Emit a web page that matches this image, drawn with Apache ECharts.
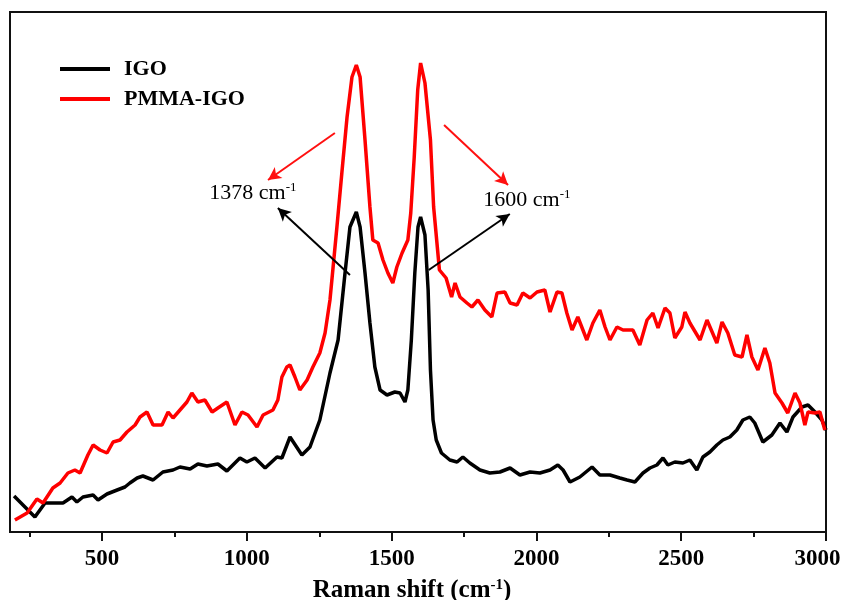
<!DOCTYPE html>
<html>
<head>
<meta charset="utf-8">
<script src="https://cdn.jsdelivr.net/npm/echarts@6/dist/echarts.min.js"></script>
<style>
  html, body { margin: 0; padding: 0; background: #fff; }
  #chart { width: 844px; height: 600px; }
</style>
</head>
<body>
<div id="chart"></div>
<script>
// Raman spectra, [wavenumber (cm-1), intensity (a.u.)]
const igo = [
  [196,36],[268,15],[303,29],[330,29],[365,29],[396,35],[413,30],[434,35],[469,37],[486,32],
  [517,38],[552,42],[579,45],[596,49],[621,54],[641,56],[676,52],[710,60],[745,62],[769,65],
  [804,63],[831,68],[862,66],[900,68],[931,61],[976,74],[1000,70],[1028,74],[1063,64],[1104,75],
  [1121,74],[1149,95],[1190,77],[1218,85],[1252,112],[1287,159],[1315,192],[1339,259],[1356,305],[1378,320],
  [1391,305],[1408,259],[1425,209],[1442,165],[1460,142],[1484,137],[1511,140],[1529,139],[1546,130],[1556,142],
  [1568,192],[1580,259],[1591,305],[1600,315],[1615,297],[1626,242],[1634,162],[1643,112],[1654,92],[1672,79],
  [1701,72],[1726,70],[1746,75],[1770,69],[1805,62],[1839,59],[1874,60],[1909,64],[1943,57],[1978,60],
  [2012,59],[2047,62],[2074,67],[2092,62],[2116,50],[2150,55],[2192,65],[2219,57],[2254,57],[2288,54],
  [2313,52],[2340,50],[2368,59],[2392,64],[2416,67],[2437,74],[2454,67],[2478,70],[2506,69],[2530,72],
  [2554,62],[2575,75],[2599,80],[2623,87],[2644,92],[2668,95],[2692,102],[2713,112],[2737,115],[2754,109],
  [2782,90],[2813,97],[2841,109],[2865,100],[2886,115],[2917,125],[2938,127],[2962,120],[2986,112],[3000,102]
];

const pmmaIgo = [
  [199,12],[241,19],[275,33],[296,29],[330,44],[355,49],[382,59],[406,62],[424,59],[451,77],
  [469,87],[493,82],[517,79],[538,90],[562,92],[586,100],[614,107],[631,115],[655,120],[676,107],
  [707,107],[728,120],[745,114],[769,122],[793,130],[810,139],[831,130],[855,132],[880,120],[900,124],
  [931,130],[959,107],[983,120],[1004,117],[1035,105],[1056,117],[1090,122],[1107,132],[1121,155],[1138,165],
  [1149,167],[1166,155],[1183,142],[1208,152],[1228,165],[1252,179],[1270,199],[1287,232],[1311,305],[1328,359],
  [1346,415],[1363,455],[1378,467],[1391,455],[1408,392],[1425,325],[1435,292],[1453,289],[1470,272],[1487,259],
  [1504,249],[1518,265],[1536,279],[1556,292],[1566,319],[1578,375],[1590,442],[1600,469],[1615,449],[1634,392],
  [1645,325],[1665,262],[1688,254],[1707,235],[1719,249],[1736,235],[1760,229],[1777,225],[1798,232],[1822,222],
  [1846,215],[1864,239],[1891,240],[1909,229],[1933,227],[1953,239],[1978,234],[2002,240],[2029,242],[2047,220],
  [2071,240],[2088,239],[2105,219],[2123,202],[2143,215],[2174,192],[2195,209],[2219,222],[2237,205],[2254,192],
  [2278,205],[2299,202],[2313,202],[2333,202],[2357,187],[2382,212],[2402,219],[2420,204],[2444,224],[2461,219],
  [2478,194],[2502,205],[2513,220],[2530,209],[2565,192],[2589,212],[2623,189],[2641,210],[2661,199],[2685,177],
  [2710,175],[2727,197],[2744,175],[2765,162],[2789,184],[2806,169],[2824,139],[2848,129],[2868,119],[2893,139],
  [2910,129],[2927,107],[2938,120],[2962,119],[2979,120],[2996,102]
];

// Wavenumber axis: labelled major ticks and the short ticks between them
const majorTicks = [500, 1000, 1500, 2000, 2500, 3000];
const minorTicks = [250, 750, 1250, 1750, 2250, 2750];

// Band positions marked on the spectra
const bandD = 1378;
const bandG = 1600;

const serif = '"Liberation Serif", "Times New Roman", "DejaVu Serif", serif';
const X_MIN = 182, X_MAX = 3000;

const chart = echarts.init(document.getElementById('chart'), null, { renderer: 'canvas' });

const bandLabel = (v) => '{n|' + v + ' cm}{s|-1}';
const bandRich = {
  n: { fontFamily: serif, fontSize: 22, color: '#000' },
  s: { fontFamily: serif, fontSize: 13, color: '#000', verticalAlign: 'bottom', padding: [0, 0, 10, 0] }
};

const arrowLine = (color, pairs) => ({
  silent: true,
  symbol: ['none', 'arrow'],
  symbolSize: [10, 13],
  label: { show: false },
  lineStyle: { color: color, width: 2, type: 'solid' },
  emphasis: { disabled: true },
  data: pairs.map(p => [{ coord: p[0] }, { coord: p[1] }])
});

const tickFont = { fontFamily: serif, fontWeight: 'bold', fontSize: 23, color: '#000' };

chart.setOption({
  animation: false,
  backgroundColor: '#fff',
  grid: {
    left: 10, right: 18, top: 12, bottom: 68,
    containLabel: false,
    outerBoundsMode: 'none',
    show: true, borderColor: '#111', borderWidth: 2, backgroundColor: 'transparent'
  },
  legend: {
    orient: 'vertical',
    left: 55, top: 53,
    itemWidth: 50, itemHeight: 4, itemGap: 8,
    icon: 'rect',
    data: ['IGO', 'PMMA-IGO'],
    textStyle: { fontFamily: serif, fontWeight: 'bold', fontSize: 22, color: '#000', padding: [0, 0, 0, 9] }
  },
  xAxis: [
    {
      type: 'value',
      min: X_MIN, max: X_MAX,
      splitLine: { show: false },
      axisLine: { show: true, onZero: false, lineStyle: { color: '#111', width: 2 } },
      axisTick: { show: true, inside: false, length: 9, customValues: majorTicks, lineStyle: { color: '#111', width: 2 } },
      axisLabel: {
        customValues: majorTicks,
        formatter: v => (v === X_MAX ? '{e|' + v + '}' : String(v)),
        margin: 16,
        ...tickFont,
        rich: { e: { ...tickFont, padding: [0, 17, 6, 0] } }
      },
      name: '{a|Raman shift (cm}{s|-1}{a|)}',
      nameLocation: 'middle',
      nameGap: 46,
      nameTextStyle: {
        padding: [0, 12, 0, 0],
        rich: {
          a: { fontFamily: serif, fontWeight: 'bold', fontSize: 25, color: '#000' },
          s: { fontFamily: serif, fontWeight: 'bold', fontSize: 15, color: '#000', verticalAlign: 'bottom', padding: [0, 0, 11, 0] }
        }
      }
    },
    {
      type: 'value',
      position: 'bottom',
      min: X_MIN, max: X_MAX,
      splitLine: { show: false },
      axisLine: { show: false },
      axisTick: { show: true, inside: false, length: 5, customValues: minorTicks, lineStyle: { color: '#111', width: 2 } },
      axisLabel: { show: false }
    }
  ],
  yAxis: {
    type: 'value',
    min: 0, max: 520,
    show: false,
    splitLine: { show: false }
  },
  series: [
    {
      name: 'IGO',
      type: 'line',
      data: igo,
      showSymbol: false,
      symbol: 'none',
      color: '#000',
      lineStyle: { color: '#000', width: 3.5 },
      z: 2,
      markLine: arrowLine('#000', [
        [[1356, 257], [1107, 324]],
        [[1628, 262], [1908, 318]]
      ]),
      markPoint: {
        silent: true,
        symbol: 'rect', symbolSize: 0,
        label: { show: true, formatter: p => bandLabel(p.value), rich: bandRich },
        data: [
          { coord: [1021, 339], value: bandD },
          { coord: [1967, 332], value: bandG }
        ]
      }
    },
    {
      name: 'PMMA-IGO',
      type: 'line',
      data: pmmaIgo,
      showSymbol: false,
      symbol: 'none',
      color: '#ff0000',
      lineStyle: { color: '#ff0000', width: 3.5 },
      z: 3,
      markLine: arrowLine('#ff1010', [
        [[1304, 399], [1073, 352]],
        [[1681, 407], [1902, 347]]
      ])
    }
  ]
});
</script>
</body>
</html>
